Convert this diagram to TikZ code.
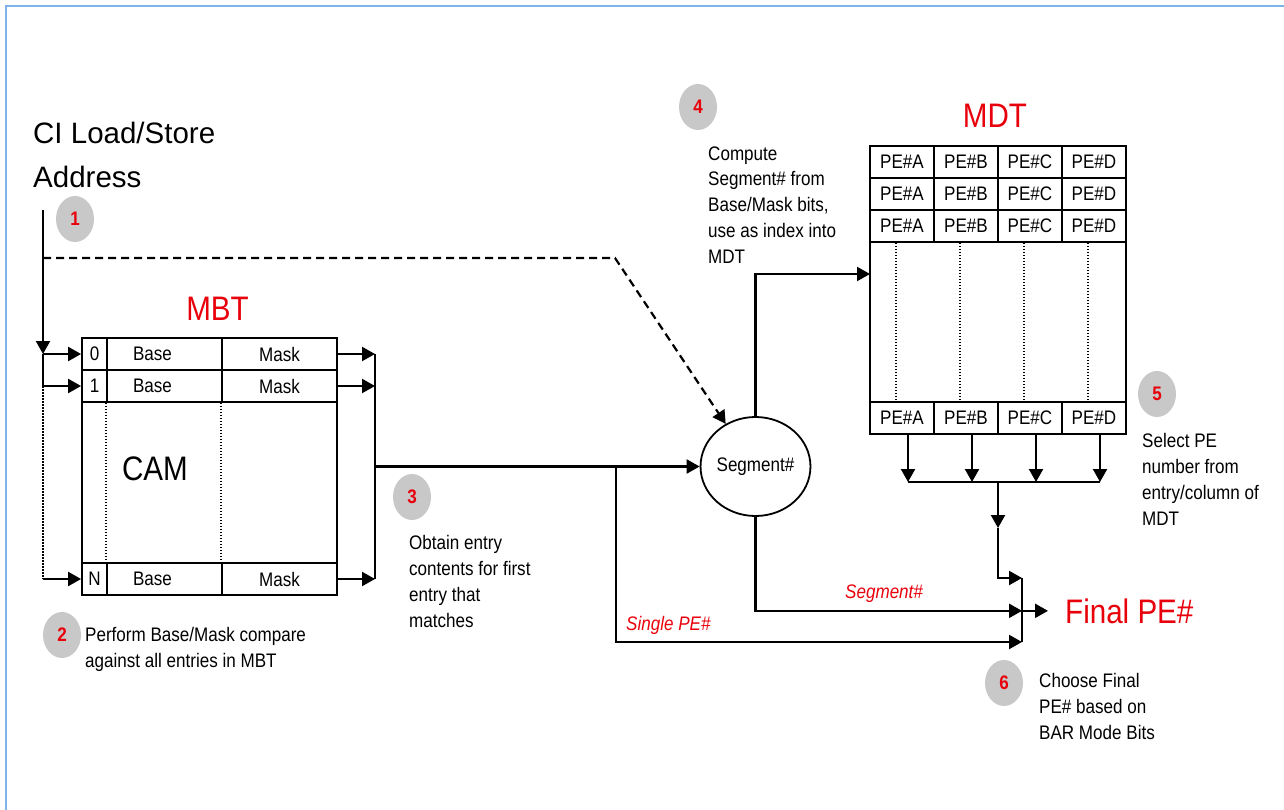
\documentclass[tikz,border=0pt]{standalone}
\usepackage{fontspec}
\setmainfont{Liberation Sans}
\newfontfamily\tallsans{Liberation Sans}[FakeStretch=0.87]
\usepackage{tikz}
\usetikzlibrary{shapes.geometric, arrows.meta, positioning, calc}
\definecolor{frameBlue}{HTML}{7EB4EA}
\definecolor{stepGray}{HTML}{C8C8C8}
\definecolor{labelRed}{HTML}{E8000B}

\begin{document}
\begin{tikzpicture}[
    x=1pt, y=-1pt,
    cell/.style={draw, line width=1.8pt, inner sep=0pt, minimum height=32pt, font=\tallsans\fontsize{19.6}{21}\selectfont},
    note/.style={anchor=base west, inner sep=0pt, align=left, font=\tallsans\fontsize{19.6}{25.7}\selectfont},
    redlabel/.style={anchor=base west, inner sep=0pt, text=labelRed, font=\tallsans\fontsize{19.6}{21}\selectfont\itshape},
    stepmark/.style={ellipse, fill=stepGray, minimum width=38pt, minimum height=46pt, inner sep=0pt, text=labelRed, font=\tallsans\fontsize{19.6}{20}\selectfont\bfseries},
    title/.style={anchor=base, inner sep=0pt, text=labelRed, font=\tallsans\fontsize{34}{36}\selectfont},
    arrow/.style={-{Triangle[length=13pt, width=14pt]}, line width=2.2pt},
    wire/.style={line width=2.2pt},
    dots/.style={line width=1.5pt, dash pattern=on 1.5pt off 1.5pt},
]
    \useasboundingbox (0,0) rectangle (1284,810);
    \draw[frameBlue, line width=2.5pt] (6,810) -- (6,6) -- (1284,6);

    % Address input
    \node[anchor=base west, inner sep=0pt, align=left, font=\fontsize{29.5}{44}\selectfont] (addr) at (33,188) {CI Load/Store\\Address};
    \coordinate (src) at (43,210);
    \coordinate (split) at (43,258);
    \coordinate (dashturn) at (615,258);

    % MBT
    \node[title] (mbttitle) at (217.5,320) {MBT};
    \node[cell, minimum width=25pt] (idx0) at (94.5,354) {0};
    \node[cell, minimum width=115pt] (base0) at (164.5,354) {\makebox[63pt][l]{Base}};
    \node[cell, minimum width=115pt] (mask0) at (279.5,354) {Mask};
    \node[cell, minimum width=25pt] (idx1) at (94.5,386) {1};
    \node[cell, minimum width=115pt] (base1) at (164.5,386) {\makebox[63pt][l]{Base}};
    \node[cell, minimum width=115pt] (mask1) at (279.5,386) {Mask};
    \node[cell, minimum width=255pt, minimum height=161pt] (mbtbody) at (209.5,482.5) {};
    \node[cell, minimum width=25pt] (idxN) at (94.5,579) {N};
    \node[cell, minimum width=115pt] (baseN) at (164.5,579) {\makebox[63pt][l]{Base}};
    \node[cell, minimum width=115pt] (maskN) at (279.5,579) {Mask};
    \node[anchor=base, inner sep=0pt, font=\tallsans\fontsize{34}{36}\selectfont] (cam) at (155,480) {CAM};
    \coordinate (mbtbus) at (375,0);

    % Segment
    \node[draw, ellipse, line width=1.8pt, minimum width=103pt, minimum height=99pt, inner sep=0pt, font=\tallsans\fontsize{19.6}{21}\selectfont] (seg) at (755.5,466.5) {Segment\#};
    \coordinate (tap) at (616,0);
    \coordinate (mdtin) at (870,274);

    % MDT
    \node[title] (mdttitle) at (995,128) {MDT};
    \node[cell, minimum width=64pt] (a1) at (902,162) {PE\#A};
    \node[cell, minimum width=64pt] (b1) at (966,162) {PE\#B};
    \node[cell, minimum width=64pt] (c1) at (1030,162) {PE\#C};
    \node[cell, minimum width=64pt] (d1) at (1094,162) {PE\#D};
    \node[cell, minimum width=64pt] (a2) at (902,194) {PE\#A};
    \node[cell, minimum width=64pt] (b2) at (966,194) {PE\#B};
    \node[cell, minimum width=64pt] (c2) at (1030,194) {PE\#C};
    \node[cell, minimum width=64pt] (d2) at (1094,194) {PE\#D};
    \node[cell, minimum width=64pt] (a3) at (902,226) {PE\#A};
    \node[cell, minimum width=64pt] (b3) at (966,226) {PE\#B};
    \node[cell, minimum width=64pt] (c3) at (1030,226) {PE\#C};
    \node[cell, minimum width=64pt] (d3) at (1094,226) {PE\#D};
    \node[cell, minimum width=256pt, minimum height=160pt] (mdtbody) at (998,322) {};
    \node[cell, minimum width=64pt] (a4) at (902,418) {PE\#A};
    \node[cell, minimum width=64pt] (b4) at (966,418) {PE\#B};
    \node[cell, minimum width=64pt] (c4) at (1030,418) {PE\#C};
    \node[cell, minimum width=64pt] (d4) at (1094,418) {PE\#D};
    \coordinate (merge) at (0,482);
    \coordinate (mdtdrop) at (998,528);

    % Final selection
    \coordinate (mux) at (1022,0);
    \coordinate (muxtop) at (1022,578);
    \coordinate (muxlow) at (1022,642);
    \node[title, anchor=base west] (final) at (1065,623) {Final PE\#};
    \node[redlabel] (seglabel) at (845,598) {Segment\#};
    \node[redlabel] (singlelabel) at (626,630) {Single PE\#};

    % Steps
    \node[stepmark] (s1) at (75,219) {1};
    \node[stepmark] (s2) at (62,635) {2};
    \node[stepmark] (s3) at (412,497) {3};
    \node[stepmark] (s4) at (698,107) {4};
    \node[stepmark] (s5) at (1157,394) {5};
    \node[stepmark] (s6) at (1004,683) {6};
    \node[note] (n2) at (85,667) {Perform Base/Mask compare\\against all entries in MBT};
    \node[note] (n3) at (409,627) {Obtain entry\\contents for first\\entry that\\matches};
    \node[note] (n4) at (708,263) {Compute\\Segment\# from\\Base/Mask bits,\\use as index into\\MDT};
    \node[note] (n5) at (1142,525) {Select PE\\number from\\entry/column of\\MDT};
    \node[note] (n6) at (1039,739) {Choose Final\\PE\# based on\\BAR Mode Bits};

    % Address into MBT
    \draw[arrow] (src) -- (src |- idx0);
    \draw[arrow] (src |- idx0) -- (idx0);
    \draw[arrow] (src |- idx0) |- (idx1);
    \draw[dots] (src |- idx1) -- (src |- idxN);
    \draw[arrow] (src |- idxN) -- (idxN);
    \draw[arrow, dash pattern=on 8pt off 5pt] (split) -- (dashturn) -- (seg.125);
    \draw[dots] (base1.south west) -- (baseN.north west);
    \draw[dots] (mask1.south west) -- (maskN.north west);

    % MBT out to Segment
    \draw[arrow] (mask0) -- (mask0 -| mbtbus);
    \draw[arrow] (mask1) -- (mask1 -| mbtbus);
    \draw[arrow] (maskN) -- (maskN -| mbtbus);
    \draw[wire] (mask0 -| mbtbus) -- (maskN -| mbtbus);
    \draw[arrow] (mbtbus |- seg) -- (seg);
    \draw[arrow] (seg.north) |- (mdtin);

    % MDT columns
    \draw[dots] ([xshift=-6pt]a3.south) -- ([xshift=-6pt]a4.north);
    \draw[dots] ([xshift=-6pt]b3.south) -- ([xshift=-6pt]b4.north);
    \draw[dots] ([xshift=-6pt]c3.south) -- ([xshift=-6pt]c4.north);
    \draw[dots] ([xshift=-6pt]d3.south) -- ([xshift=-6pt]d4.north);
    \draw[arrow] ([xshift=6pt]a4.south) -- ([xshift=6pt]a4.south |- merge);
    \draw[arrow] ([xshift=6pt]b4.south) -- ([xshift=6pt]b4.south |- merge);
    \draw[arrow] ([xshift=6pt]c4.south) -- ([xshift=6pt]c4.south |- merge);
    \draw[arrow] ([xshift=6pt]d4.south) -- ([xshift=6pt]d4.south |- merge);
    \draw[wire] ([xshift=6pt]a4.south |- merge) -- ([xshift=6pt]d4.south |- merge);
    \draw[arrow] (mdtdrop |- merge) -- (mdtdrop);

    % Into final mux
    \draw[arrow] (mdtdrop) |- (muxtop);
    \draw[arrow] (seg.south) |- (final.west -| mux);
    \draw[arrow] (tap |- seg) |- (muxlow);
    \draw[wire] (muxtop) -- (muxlow);
    \draw[arrow] (final.west -| mux) -- ([xshift=-17pt]final.west);
\end{tikzpicture}
\end{document}
